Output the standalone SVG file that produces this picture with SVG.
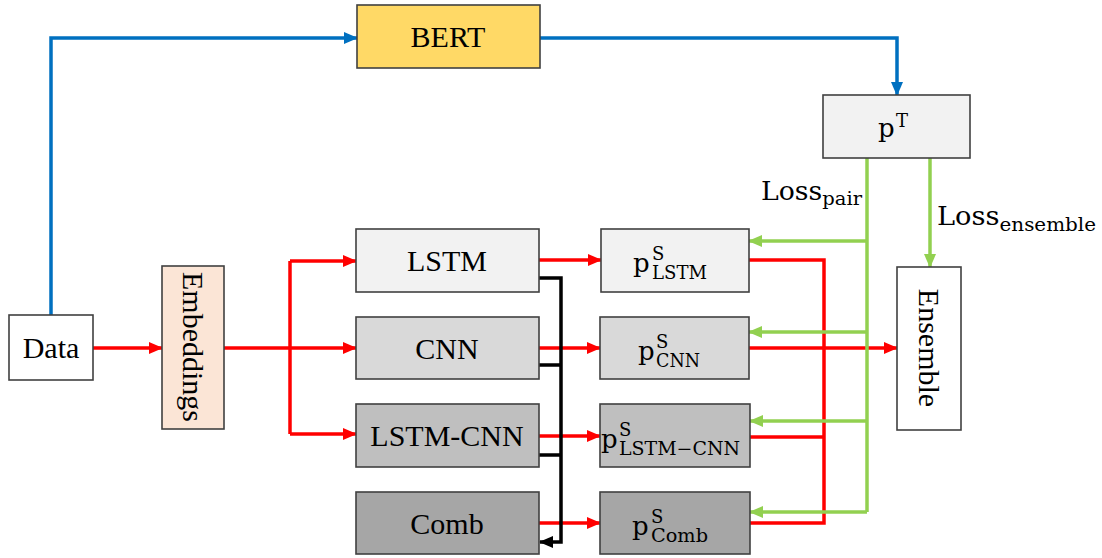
<svg xmlns="http://www.w3.org/2000/svg" width="1102" height="558" viewBox="0 0 1102 558">
  <defs>
    <marker id="ahBlue" markerUnits="userSpaceOnUse" markerWidth="14" markerHeight="12" refX="13" refY="6" orient="auto">
      <path d="M0,0 L14,6 L0,12 Z" fill="#0070C0"/>
    </marker>
    <marker id="ahRed" markerUnits="userSpaceOnUse" markerWidth="14" markerHeight="12" refX="13" refY="6" orient="auto">
      <path d="M0,0 L14,6 L0,12 Z" fill="#FF0000"/>
    </marker>
    <marker id="ahGreen" markerUnits="userSpaceOnUse" markerWidth="14" markerHeight="12" refX="13" refY="6" orient="auto">
      <path d="M0,0 L14,6 L0,12 Z" fill="#92D050"/>
    </marker>
    <marker id="ahBlack" markerUnits="userSpaceOnUse" markerWidth="14" markerHeight="12" refX="13" refY="6" orient="auto">
      <path d="M0,0 L14,6 L0,12 Z" fill="#000000"/>
    </marker>
  </defs>
  <style>
    .box { stroke: #404040; stroke-width: 1.6; }
    .lbl { font-size: 30px; fill: #000; }
    .math { fill: #000; }
    .blue { fill: none; stroke: #0070C0; stroke-width: 3.5; }
    .red { fill: none; stroke: #FF0000; stroke-width: 3.5; }
    .green { fill: none; stroke: #92D050; stroke-width: 3.5; }
    .black { fill: none; stroke: #000000; stroke-width: 3.5; }
  </style>
  <rect width="1102" height="558" fill="#FFFFFF"/>

  <!-- connectors -->
  <g id="connectors">
    <!-- teacher path -->
    <polyline class="blue" points="51,315 51,38 357,38" marker-end="url(#ahBlue)"/>
    <polyline class="blue" points="540,38 897,38 897,95" marker-end="url(#ahBlue)"/>

    <!-- embeddings feed -->
    <line class="red" x1="93" y1="348" x2="162" y2="348" marker-end="url(#ahRed)"/>
    <line class="red" x1="224" y1="348" x2="356" y2="348" marker-end="url(#ahRed)"/>
    <line class="red" x1="290" y1="261" x2="290" y2="434"/>
    <line class="red" x1="290" y1="261" x2="356" y2="261" marker-end="url(#ahRed)"/>
    <line class="red" x1="290" y1="434" x2="356" y2="434" marker-end="url(#ahRed)"/>

    <!-- model outputs -->
    <line class="red" x1="539" y1="260" x2="601" y2="260" marker-end="url(#ahRed)"/>
    <line class="red" x1="539" y1="348" x2="600" y2="348" marker-end="url(#ahRed)"/>
    <line class="red" x1="539" y1="436" x2="600" y2="436" marker-end="url(#ahRed)"/>
    <line class="red" x1="539" y1="523" x2="600" y2="523" marker-end="url(#ahRed)"/>

    <!-- feature combination -->
    <polyline class="black" points="539,278 561,278 561,542 540,542" marker-end="url(#ahBlack)"/>
    <line class="black" x1="539" y1="365" x2="561" y2="365"/>
    <line class="black" x1="539" y1="455" x2="561" y2="455"/>

    <!-- student probabilities into ensemble -->
    <polyline class="red" points="749,260 824,260 824,523 750,523"/>
    <line class="red" x1="750" y1="437" x2="824" y2="437"/>
    <line class="red" x1="749" y1="348" x2="897" y2="348" marker-end="url(#ahRed)"/>

    <!-- distillation losses -->
    <line class="green" x1="867" y1="158" x2="867" y2="512"/>
    <line class="green" x1="867" y1="241" x2="749" y2="241" marker-end="url(#ahGreen)"/>
    <line class="green" x1="867" y1="332" x2="749" y2="332" marker-end="url(#ahGreen)"/>
    <line class="green" x1="867" y1="421" x2="750" y2="421" marker-end="url(#ahGreen)"/>
    <line class="green" x1="867" y1="512" x2="750" y2="512" marker-end="url(#ahGreen)"/>
    <line class="green" x1="930" y1="158" x2="930" y2="267" marker-end="url(#ahGreen)"/>

    <text class="math" font-family="DejaVu Serif, serif" x="761" y="200" font-size="26" textLength="101" lengthAdjust="spacingAndGlyphs">Loss<tspan font-size="19" dy="5">pair</tspan></text>
    <text class="math" font-family="DejaVu Serif, serif" x="937" y="225" font-size="26" textLength="159" lengthAdjust="spacingAndGlyphs">Loss<tspan font-size="19" dy="6">ensemble</tspan></text>
  </g>

  <!-- nodes -->
  <g id="data">
    <rect class="box" x="9" y="315" width="84" height="65" fill="#FFFFFF"/>
    <text class="lbl" font-family="Liberation Serif, Times New Roman, serif" x="51" y="358" text-anchor="middle">Data</text>
  </g>
  <g id="bert">
    <rect class="box" x="357" y="5" width="183" height="63" fill="#FFD966"/>
    <text class="lbl" font-family="Liberation Serif, Times New Roman, serif" x="448" y="47" text-anchor="middle">BERT</text>
  </g>
  <g id="teacher">
    <rect class="box" x="823" y="95" width="147" height="63" fill="#F2F2F2"/>
    <text class="math" font-family="DejaVu Serif, serif" x="878" y="137" font-size="26">p<tspan font-size="18" x="896" y="127">T</tspan></text>
  </g>
  <g id="embeddings">
    <rect class="box" x="162" y="266" width="62" height="163" fill="#FBE5D6"/>
    <text class="lbl" font-family="Liberation Serif, Times New Roman, serif" x="193" y="347" text-anchor="middle" dominant-baseline="central" transform="rotate(90 193 347)">Embeddings</text>
  </g>
  <g id="lstm">
    <rect class="box" x="356" y="229" width="183" height="63" fill="#F2F2F2"/>
    <text class="lbl" font-family="Liberation Serif, Times New Roman, serif" x="447" y="271" text-anchor="middle">LSTM</text>
  </g>
  <g id="cnn">
    <rect class="box" x="356" y="317" width="183" height="62" fill="#D9D9D9"/>
    <text class="lbl" font-family="Liberation Serif, Times New Roman, serif" x="447" y="359" text-anchor="middle">CNN</text>
  </g>
  <g id="lstm-cnn">
    <rect class="box" x="356" y="404" width="183" height="63" fill="#BFBFBF"/>
    <text class="lbl" font-family="Liberation Serif, Times New Roman, serif" x="447" y="446" text-anchor="middle">LSTM-CNN</text>
  </g>
  <g id="comb">
    <rect class="box" x="356" y="492" width="183" height="62" fill="#A6A6A6"/>
    <text class="lbl" font-family="Liberation Serif, Times New Roman, serif" x="447" y="534" text-anchor="middle">Comb</text>
  </g>
  <g id="p-lstm">
    <rect class="box" x="601" y="229" width="148" height="63" fill="#F2F2F2"/>
    <text class="math" font-family="DejaVu Serif, serif" x="633" y="272" font-size="26">p<tspan font-size="18" x="652" y="260">S</tspan><tspan font-size="18" x="652" y="279" textLength="55" lengthAdjust="spacingAndGlyphs">LSTM</tspan></text>
  </g>
  <g id="p-cnn">
    <rect class="box" x="600" y="317" width="149" height="62" fill="#D9D9D9"/>
    <text class="math" font-family="DejaVu Serif, serif" x="638" y="360" font-size="26">p<tspan font-size="18" x="656" y="348">S</tspan><tspan font-size="18" x="656" y="367" textLength="44" lengthAdjust="spacingAndGlyphs">CNN</tspan></text>
  </g>
  <g id="p-lstm-cnn">
    <rect class="box" x="600" y="404" width="150" height="63" fill="#BFBFBF"/>
    <text class="math" font-family="DejaVu Serif, serif" x="601" y="448" font-size="26">p<tspan font-size="18" x="619" y="436">S</tspan><tspan font-size="18" x="619" y="455" textLength="121" lengthAdjust="spacingAndGlyphs">LSTM−CNN</tspan></text>
  </g>
  <g id="p-comb">
    <rect class="box" x="600" y="492" width="150" height="62" fill="#A6A6A6"/>
    <text class="math" font-family="DejaVu Serif, serif" x="632" y="535" font-size="26">p<tspan font-size="18" x="651" y="523">S</tspan><tspan font-size="18" x="651" y="542" textLength="57" lengthAdjust="spacingAndGlyphs">Comb</tspan></text>
  </g>
  <g id="ensemble">
    <rect class="box" x="897" y="267" width="64" height="163" fill="#FFFFFF"/>
    <text class="lbl" font-family="Liberation Serif, Times New Roman, serif" x="929" y="348" text-anchor="middle" dominant-baseline="central" transform="rotate(90 929 348)">Ensemble</text>
  </g>
</svg>
